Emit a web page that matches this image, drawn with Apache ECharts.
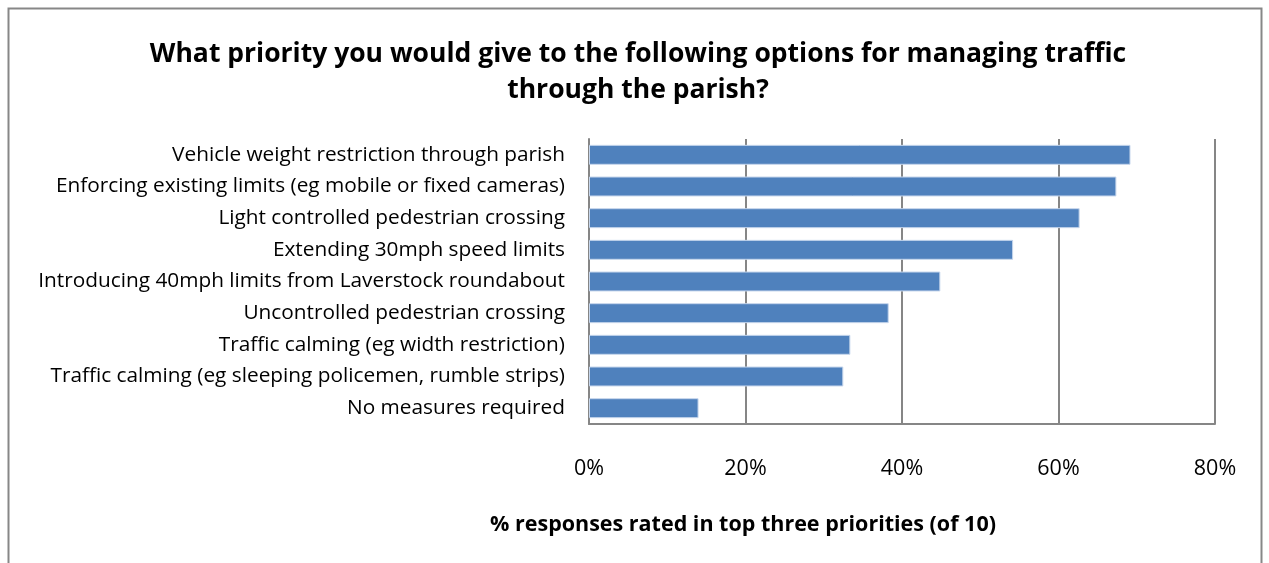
<!DOCTYPE html>
<html>
<head>
<meta charset="utf-8">
<script src="https://cdn.jsdelivr.net/npm/echarts@6/dist/echarts.min.js"></script>
<style>
html,body{margin:0;padding:0;background:#fff;}
#chart{width:1269px;height:563px;}
</style>
</head>
<body>
<div id="chart"></div>
<script>
const categories = [
  'Vehicle weight restriction through parish',
  'Enforcing existing limits (eg mobile or fixed cameras)',
  'Light controlled pedestrian crossing',
  'Extending 30mph speed limits',
  'Introducing 40mph limits from Laverstock roundabout',
  'Uncontrolled pedestrian crossing',
  'Traffic calming (eg width restriction)',
  'Traffic calming (eg sleeping policemen, rumble strips)',
  'No measures required'
];
const percentages = [69.2, 67.4, 62.7, 54.2, 44.9, 38.3, 33.4, 32.5, 14.0];
const xTicks = [0, 20, 40, 60, 80];

const FONT = 'Open Sans';
const chart = echarts.init(document.getElementById('chart'));
chart.setOption({
  animation: false,
  backgroundColor: '#fff',
  title: [
    {
      text: 'What priority you would give to the following options for managing traffic\nthrough the parish?',
      left: 638, top: 36, textAlign: 'center', padding: 0,
      textStyle: { fontFamily: FONT, fontWeight: 'bold', fontSize: 26.5, lineHeight: 36, color: '#000' }
    },
    {
      text: '% responses rated in top three priorities (of 10)',
      left: 743, top: 513, textAlign: 'center', padding: 0,
      textStyle: { fontFamily: FONT, fontWeight: 'bold', fontSize: 21.5, lineHeight: 24, color: '#000' }
    }
  ],
  graphic: [{
    type: 'rect', shape: { x: 8.5, y: 8.5, width: 1253, height: 580 },
    style: { fill: 'none', stroke: '#878787', lineWidth: 2 }, silent: true
  }],
  grid: { left: 589, right: 54, top: 139, bottom: 139 },
  xAxis: {
    type: 'value', min: xTicks[0], max: xTicks[xTicks.length - 1], interval: 20,
    axisLine: { show: true, lineStyle: { color: '#868686', width: 2 } },
    axisTick: { show: false },
    splitLine: { show: true, lineStyle: { color: '#868686', width: 2 } },
    axisLabel: { formatter: '{value}%', margin: 34, fontFamily: FONT, fontSize: 21.5, color: '#000' }
  },
  yAxis: {
    type: 'category', data: categories, inverse: true,
    axisLine: { show: true, lineStyle: { color: '#868686', width: 2 } },
    axisTick: { show: false },
    axisLabel: { margin: 24, fontFamily: FONT, fontSize: 20.8, color: '#000' }
  },
  series: [{
    type: 'bar', data: percentages, barCategoryGap: '37%',
    itemStyle: { color: '#4f81bd', borderColor: '#c6d6ec', borderWidth: 1 }
  }]
});
</script>
</body>
</html>
